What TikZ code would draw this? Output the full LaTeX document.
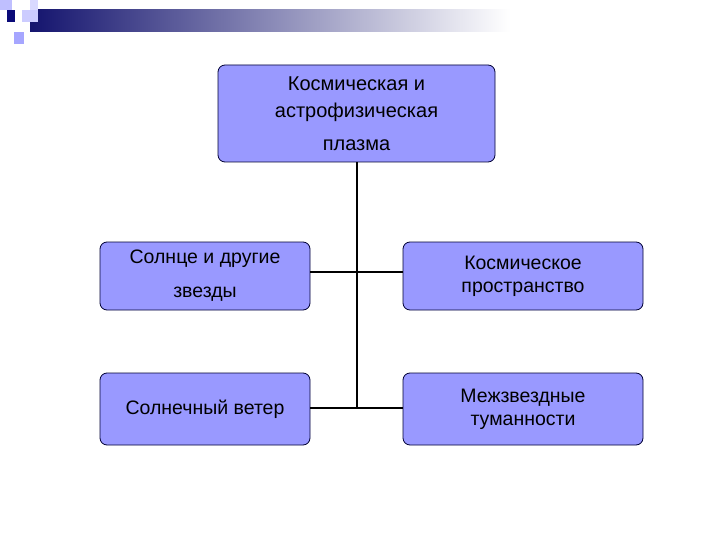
\documentclass[tikz,border=0pt]{standalone}
\usepackage{fontspec}
\setmainfont{Liberation Sans}
\definecolor{boxfill}{RGB}{153,153,255}
\definecolor{navy}{RGB}{20,20,110}
\definecolor{navysq}{RGB}{10,10,120}
\begin{document}
\begin{tikzpicture}[x=1pt,y=-1pt,
  box/.style={draw=black!80!blue,line width=0.8pt,fill=boxfill,rounded corners=7pt,align=center,font=\fontsize{19.5}{23}\selectfont,inner sep=0pt},
  conn/.style={line width=1.2pt}]
\useasboundingbox (0,0) rectangle (720,540);
\shade[left color=navy,right color=white] (30,10) rectangle (510,32);
\fill[blue!25] (0,0) rectangle (12,10);
\fill[blue!20] (22,10) rectangle (38,22);
\fill[blue!35] (14,32) rectangle (24,44);
\fill[blue!15] (30,0) rectangle (38,10);
\fill[navysq] (7,10) rectangle (15,22);
\node[box,minimum width=277pt,minimum height=97pt,font=\fontsize{20}{27}\selectfont] (top) at (356.5,113.5) {Космическая и\\астрофизическая\\[6pt]плазма};
\node[box,minimum width=210pt,minimum height=68pt] (l1) at (205,276) {Солнце и другие\\[11pt]звезды};
\node[box,minimum width=240pt,minimum height=68pt] (r1) at (523,276) {Космическое\\пространство};
\node[box,minimum width=210pt,minimum height=72pt] (l2) at (205,409) {Солнечный ветер};
\node[box,minimum width=240pt,minimum height=72pt] (r2) at (523,409) {Межзвездные\\туманности};
\coordinate (j2) at (357,408);
\draw[conn] (top.south -| j2) -- (j2);
\draw[conn] (l1.east |- 0,272) -- (r1.west |- 0,272);
\draw[conn] (l2.east |- j2) -- (r2.west |- j2);
\end{tikzpicture}
\end{document}
